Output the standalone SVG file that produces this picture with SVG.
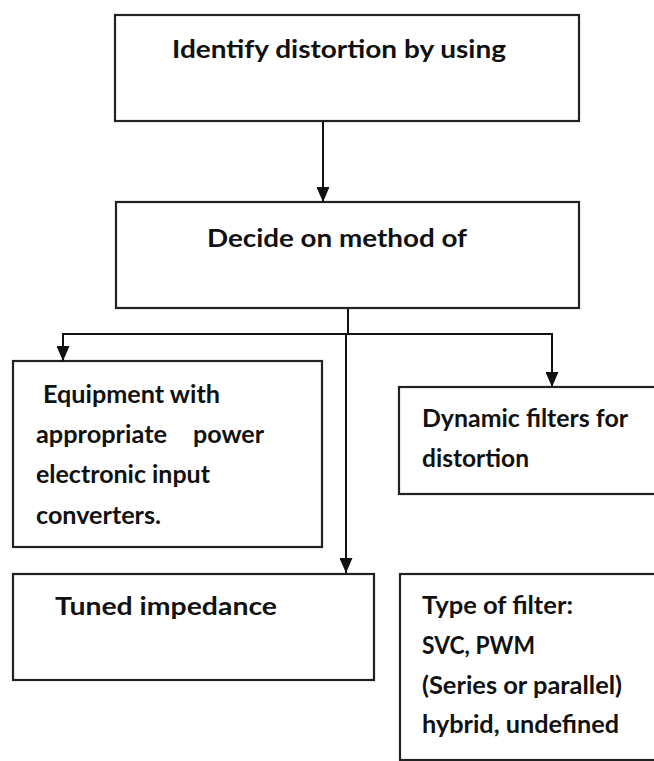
<svg xmlns="http://www.w3.org/2000/svg" width="654" height="761" viewBox="0 0 654 761">
<style>
.box{fill:#fff;stroke:#222;stroke-width:2.2}
.t{font-family:Lato,"Open Sans","Liberation Sans",sans-serif;font-weight:bold;font-size:25px;fill:#111}
.c{fill:none;stroke:#111;stroke-width:2}
</style>
<defs>
<marker id="ah" markerUnits="userSpaceOnUse" markerWidth="15" markerHeight="13" refX="15" refY="6.5" orient="auto">
<path d="M0,0 L15,6.5 L0,13 z" fill="#111"/>
</marker>
</defs>
<rect width="654" height="761" fill="#fff"/>
<g id="n1">
<rect class="box" x="115" y="15" width="464" height="106"/>
<text class="t" x="172" y="58" textLength="334" lengthAdjust="spacingAndGlyphs">Identify distortion by using</text>
</g>
<g id="n2">
<rect class="box" x="116" y="202" width="463" height="106"/>
<text class="t" x="207" y="247" textLength="260" lengthAdjust="spacingAndGlyphs">Decide on method of</text>
</g>
<g id="n3">
<rect class="box" x="13" y="361" width="309" height="186"/>
<text class="t" x="43" y="403" textLength="177" lengthAdjust="spacingAndGlyphs">Equipment with</text>
<text class="t" y="443"><tspan x="36" textLength="131" lengthAdjust="spacingAndGlyphs">appropriate</tspan><tspan x="193" textLength="71" lengthAdjust="spacingAndGlyphs">power</tspan></text>
<text class="t" x="36" y="483" textLength="174" lengthAdjust="spacingAndGlyphs">electronic input</text>
<text class="t" x="36" y="524" textLength="125" lengthAdjust="spacingAndGlyphs">converters.</text>
</g>
<g id="n4">
<rect class="box" x="399" y="387" width="260" height="107"/>
<text class="t" x="422" y="427" textLength="206" lengthAdjust="spacingAndGlyphs">Dynamic filters for</text>
<text class="t" x="422" y="467" textLength="107" lengthAdjust="spacingAndGlyphs">distortion</text>
</g>
<g id="n5">
<rect class="box" x="13" y="574" width="361" height="106"/>
<text class="t" x="55" y="615" textLength="222" lengthAdjust="spacingAndGlyphs">Tuned impedance</text>
</g>
<g id="n6">
<rect class="box" x="400" y="574" width="260" height="186"/>
<text class="t" x="422" y="614" textLength="151" lengthAdjust="spacingAndGlyphs">Type of filter:</text>
<text class="t" x="422" y="654" textLength="113" lengthAdjust="spacingAndGlyphs">SVC, PWM</text>
<text class="t" x="422" y="694" textLength="200" lengthAdjust="spacingAndGlyphs">(Series or parallel)</text>
<text class="t" x="422" y="733" textLength="197" lengthAdjust="spacingAndGlyphs">hybrid, undefined</text>
</g>
<g id="connectors">
<line class="c" x1="323" y1="122" x2="323" y2="202" marker-end="url(#ah)"/>
<line class="c" x1="348" y1="309" x2="348" y2="334"/>
<polyline class="c" points="63,334 552,334"/>
<line class="c" x1="63" y1="333" x2="63" y2="361" marker-end="url(#ah)"/>
<line class="c" x1="552" y1="333" x2="552" y2="387" marker-end="url(#ah)"/>
<line class="c" x1="346" y1="334" x2="346" y2="573" marker-end="url(#ah)"/>
</g>
</svg>
